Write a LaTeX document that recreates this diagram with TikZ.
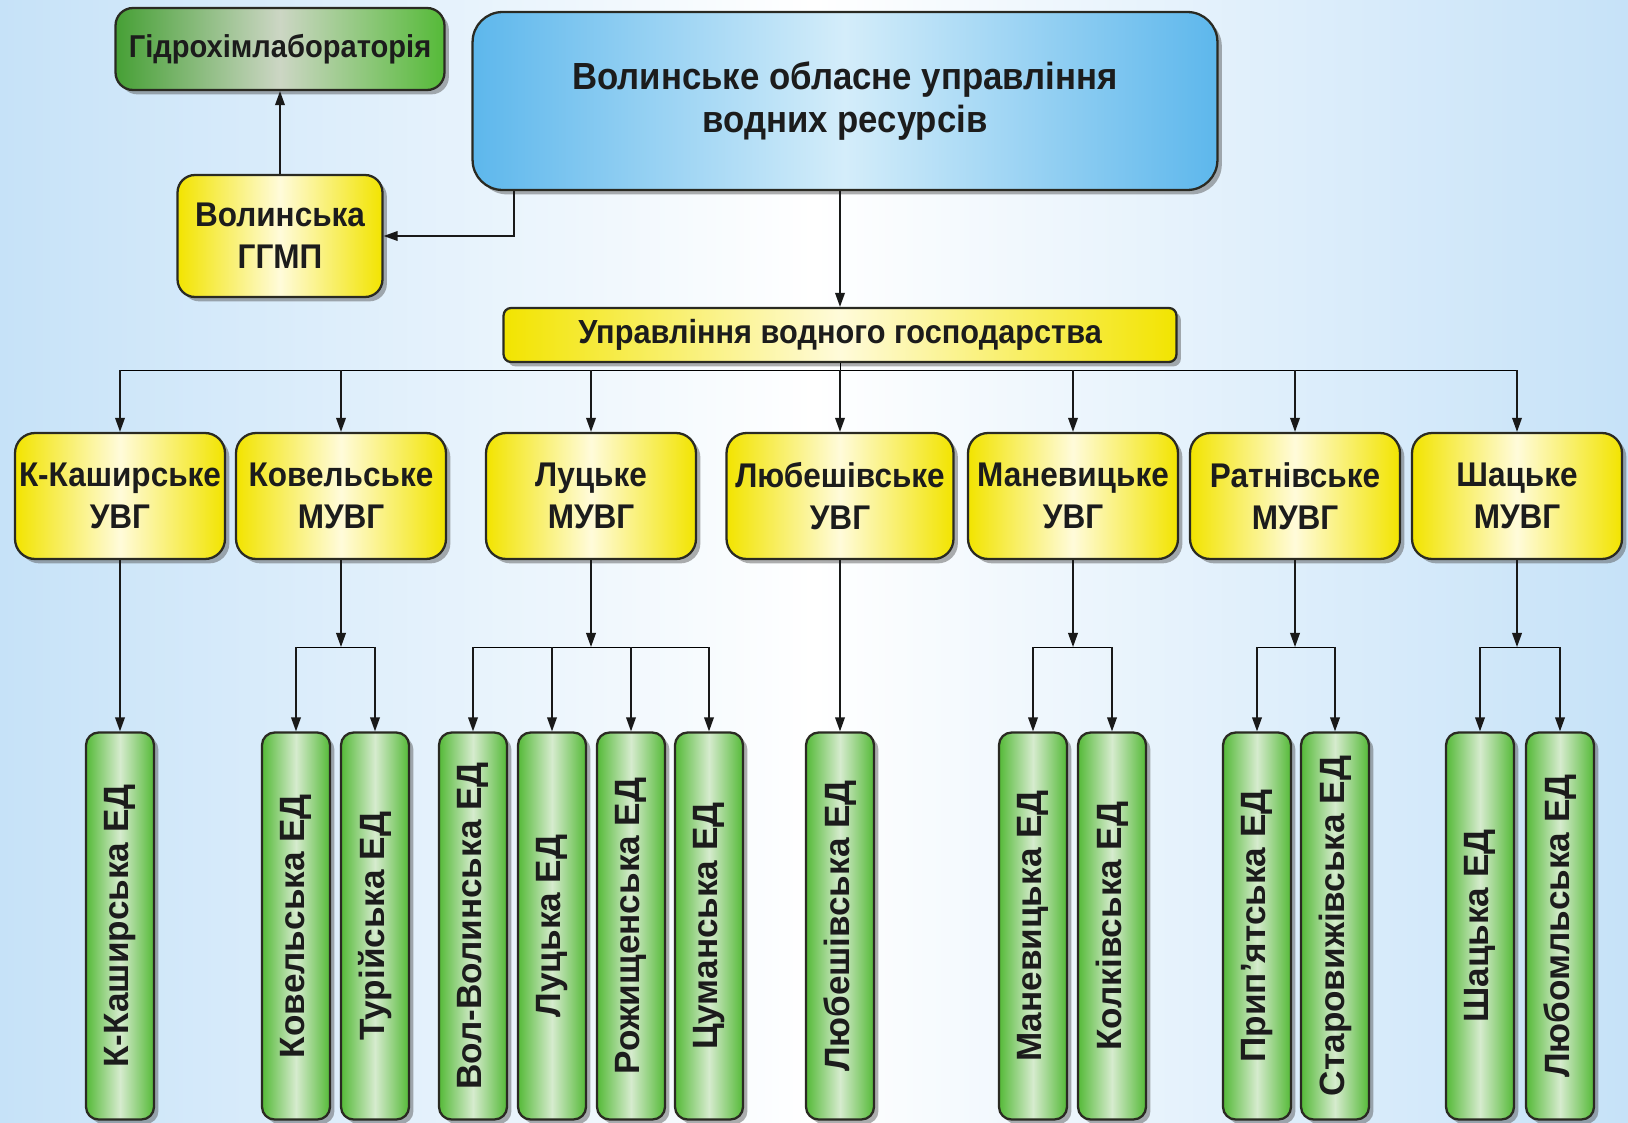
\documentclass[tikz,border=0pt]{standalone}
\usepackage{fontspec}
\usepackage{graphicx}
\usepackage{xcolor}
\usetikzlibrary{arrows.meta,shadows}
\setmainfont{Liberation Sans}
\newfontfamily\narrowfont{Liberation Sans}[FakeStretch=0.92]
\definecolor{bgblue}{HTML}{C6E2F8}
\definecolor{ink}{HTML}{1C1C1C}
\definecolor{boxline}{HTML}{2A2A22}
\definecolor{skyside}{HTML}{5DB7EC}
\definecolor{skymid}{HTML}{D4EDFA}
\definecolor{yelside}{HTML}{F2E400}
\definecolor{yelmid}{HTML}{FFFBDA}
\definecolor{grnside}{HTML}{55BA38}
\definecolor{grnmid}{HTML}{D6EBCE}
\definecolor{lableft}{HTML}{46A035}
\definecolor{labmid}{HTML}{CCD6C4}

\begin{document}
\begin{tikzpicture}[x=0.02cm, y=-0.02cm,
    box/.style={draw=boxline, line width=1.3pt, align=center, text=ink, inner sep=0pt,
        drop shadow={shadow xshift=2.5pt, shadow yshift=-2.5pt, opacity=0.45, fill=black!70}},
    head/.style={box, rounded corners=0.6cm, minimum width=14.9cm, minimum height=3.56cm,
        left color=skyside, right color=skyside, middle color=skymid,
        font=\narrowfont\bfseries\fontsize{21.5}{24.5}\selectfont},
    yel/.style={box, rounded corners=0.4cm, minimum width=4.2cm, minimum height=2.52cm,
        left color=yelside, right color=yelside, middle color=yelmid,
        font=\narrowfont\bfseries\fontsize{19.5}{24}\selectfont},
    lab/.style={box, rounded corners=0.35cm, minimum width=6.58cm, minimum height=1.64cm,
        left color=lableft, right color=grnside, middle color=labmid,
        font=\narrowfont\bfseries\fontsize{18}{21.6}\selectfont},
    ed/.style={box, rounded corners=0.25cm, minimum width=1.36cm, minimum height=7.74cm,
        left color=grnside, right color=grnside, middle color=grnmid,
        font=\bfseries\fontsize{20}{22}\selectfont},
    arr/.style={-{Triangle[length=8pt, width=5.5pt]}, line width=0.9pt, draw=black!90}]

    \fill[left color=bgblue, right color=bgblue, middle color=white] (0,0) rectangle (1628,1122);
    \useasboundingbox (0,0) rectangle (1628,1122);

    \node[lab] (lab) at (280, 49) {Гідрохімлабораторія};
    \node[yel, minimum width=4.1cm, minimum height=2.44cm, rounded corners=0.35cm] (ggmp) at (280, 236) {Волинська\\ГГМП};
    \node[head] (ovr) at (845, 101) {Волинське обласне управління\\водних ресурсів};
    \node[yel, minimum width=13.46cm, minimum height=1.08cm, rounded corners=0.15cm,
        font=\narrowfont\bfseries\fontsize{19}{22}\selectfont] (uvg) at (840, 335) {Управління водного господарства};

    \node[yel] (kk) at (120, 496) {К-Каширське\\УВГ};
    \node[yel] (kov) at (341, 496) {Ковельське\\МУВГ};
    \node[yel] (lut) at (591, 496) {Луцьке\\МУВГ};
    \node[yel, minimum width=4.54cm] (lyub) at (840, 496) {Любешівське\\УВГ};
    \node[yel] (man) at (1073, 496) {Маневицьке\\УВГ};
    \node[yel] (rat) at (1295, 496) {Ратнівське\\МУВГ};
    \node[yel] (sha) at (1517, 496) {Шацьке\\МУВГ};

    \node[ed] (kked) at (120, 926) {\rotatebox{90}{К-Каширська ЕД}};
    \node[ed] (koved) at (296, 926) {\rotatebox{90}{Ковельська ЕД}};
    \node[ed] (tured) at (375, 926) {\rotatebox{90}{Турійська ЕД}};
    \node[ed] (voled) at (473, 926) {\rotatebox{90}{Вол-Волинська ЕД}};
    \node[ed] (luted) at (552, 926) {\rotatebox{90}{Луцька ЕД}};
    \node[ed] (rozhed) at (631, 926) {\rotatebox{90}{Рожищенська ЕД}};
    \node[ed] (tsumed) at (709, 926) {\rotatebox{90}{Цуманська ЕД}};
    \node[ed] (lyubed) at (840, 926) {\rotatebox{90}{Любешівська ЕД}};
    \node[ed] (maned) at (1033, 926) {\rotatebox{90}{Маневицька ЕД}};
    \node[ed] (kolked) at (1112, 926) {\rotatebox{90}{Колківська ЕД}};
    \node[ed] (priped) at (1257, 926) {\rotatebox{90}{Прип’ятська ЕД}};
    \node[ed] (stared) at (1335, 926) {\rotatebox{90}{Старовижівська ЕД}};
    \node[ed] (shaed) at (1480, 926) {\rotatebox{90}{Шацька ЕД}};
    \node[ed] (lmled) at (1560, 926) {\rotatebox{90}{Любомльська ЕД}};

    \coordinate (bend) at (514, 236);
    \coordinate (bus) at (840, 370);
    \coordinate (kovj) at (341, 647);
    \coordinate (lutj) at (591, 647);
    \coordinate (manj) at (1073, 647);
    \coordinate (ratj) at (1295, 647);
    \coordinate (shaj) at (1517, 647);

    \draw[arr] (ggmp) -- (lab);
    \draw[arr] (ovr.south -| bend) -- (bend) -- (ggmp);
    \draw[arr] (ovr.south -| uvg) -- (uvg);

    \draw
    (uvg) -- (bus)
    (kk |- bus) -- (sha |- bus);
    \draw[arr] (kk |- bus) -- (kk);
    \draw[arr] (kov |- bus) -- (kov);
    \draw[arr] (lut |- bus) -- (lut);
    \draw[arr] (lyub |- bus) -- (lyub);
    \draw[arr] (man |- bus) -- (man);
    \draw[arr] (rat |- bus) -- (rat);
    \draw[arr] (sha |- bus) -- (sha);

    \draw[arr] (kk) -- (kked);
    \draw[arr] (lyub) -- (lyubed);

    \draw[arr] (kov) -- (kovj);
    \draw (koved |- kovj) -- (tured |- kovj);
    \draw[arr] (koved |- kovj) -- (koved);
    \draw[arr] (tured |- kovj) -- (tured);

    \draw[arr] (lut) -- (lutj);
    \draw (voled |- lutj) -- (tsumed |- lutj);
    \draw[arr] (voled |- lutj) -- (voled);
    \draw[arr] (luted |- lutj) -- (luted);
    \draw[arr] (rozhed |- lutj) -- (rozhed);
    \draw[arr] (tsumed |- lutj) -- (tsumed);

    \draw[arr] (man) -- (manj);
    \draw (maned |- manj) -- (kolked |- manj);
    \draw[arr] (maned |- manj) -- (maned);
    \draw[arr] (kolked |- manj) -- (kolked);

    \draw[arr] (rat) -- (ratj);
    \draw (priped |- ratj) -- (stared |- ratj);
    \draw[arr] (priped |- ratj) -- (priped);
    \draw[arr] (stared |- ratj) -- (stared);

    \draw[arr] (sha) -- (shaj);
    \draw (shaed |- shaj) -- (lmled |- shaj);
    \draw[arr] (shaed |- shaj) -- (shaed);
    \draw[arr] (lmled |- shaj) -- (lmled);
\end{tikzpicture}
\end{document}
